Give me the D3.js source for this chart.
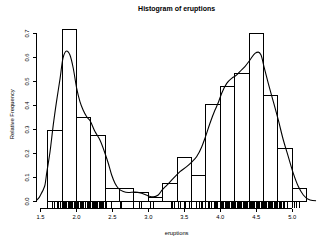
<!DOCTYPE html>
<html><head><meta charset="utf-8">
<script src="https://cdn.jsdelivr.net/npm/d3@7"></script>
<style>
html,body{margin:0;padding:0;background:#fff;}
svg{display:block;font-family:"Liberation Sans",Arial,Helvetica,sans-serif;}
</style></head>
<body><svg id="c" width="328" height="240"></svg>
<script>
// ---- data ----
const breaks = [1.6,1.8,2.0,2.2,2.4,2.6,2.8,3.0,3.2,3.4,3.6,3.8,4.0,4.2,4.4,4.6,4.8,5.0,5.2];
const relFreq = [0.294,0.717,0.349,0.276,0.055,0.055,0.037,0.018,0.074,0.184,0.110,0.404,0.478,0.533,0.699,0.441,0.221,0.055];
const densX = [1.456,1.49,1.52,1.55,1.57,1.593,1.64,1.685,1.73,1.78,1.82,1.87,1.917,1.963,2.01,2.056,2.10,2.15,2.195,2.265,2.334,2.404,2.45,2.497,2.543,2.589,2.659,2.728,2.82,2.914,3.006,3.076,3.145,3.2,3.262,3.354,3.447,3.54,3.61,3.68,3.75,3.795,3.864,3.934,3.98,4.027,4.097,4.166,4.236,4.28,4.35,4.42,4.49,4.536,4.574,4.615,4.675,4.745,4.814,4.884,4.953,5.023,5.093,5.162,5.255,5.34];
const densY = [0.004,0.015,0.032,0.05,0.067,0.115,0.205,0.317,0.414,0.511,0.595,0.625,0.608,0.553,0.47,0.414,0.379,0.351,0.335,0.289,0.254,0.199,0.157,0.108,0.074,0.053,0.039,0.035,0.037,0.032,0.021,0.017,0.025,0.046,0.065,0.094,0.122,0.143,0.162,0.185,0.226,0.262,0.324,0.379,0.41,0.449,0.49,0.511,0.525,0.539,0.56,0.5875,0.615,0.62,0.608,0.56,0.49,0.414,0.3375,0.254,0.185,0.115,0.06,0.025,0.004,0.001];
const rugValues = [1.6,1.667,1.7,1.733,1.75,1.783,1.8,1.817,1.833,1.85,1.867,1.883,1.9,1.917,1.933,1.95,1.967,1.983,2.0,2.017,2.033,2.05,2.067,2.083,2.1,2.133,2.15,2.167,2.183,2.2,2.217,2.233,2.25,2.267,2.283,2.3,2.317,2.333,2.35,2.367,2.383,2.4,2.417,2.483,2.617,2.633,2.8,2.883,2.9,3.033,3.067,3.317,3.333,3.367,3.417,3.45,3.5,3.517,3.567,3.6,3.667,3.717,3.733,3.75,3.8,3.833,3.85,3.883,3.917,3.933,3.95,3.967,4.0,4.017,4.033,4.05,4.067,4.083,4.1,4.117,4.133,4.15,4.167,4.183,4.2,4.217,4.233,4.25,4.267,4.283,4.3,4.317,4.333,4.35,4.367,4.383,4.4,4.417,4.433,4.45,4.467,4.483,4.5,4.517,4.533,4.55,4.567,4.583,4.6,4.617,4.633,4.65,4.667,4.683,4.7,4.717,4.733,4.75,4.767,4.783,4.8,4.817,4.833,4.85,4.883,4.9,4.933,5.0,5.033,5.067,5.1];
const xTicks = [1.5,2.0,2.5,3.0,3.5,4.0,4.5,5.0];
const yTicks = [0.0,0.1,0.2,0.3,0.4,0.5,0.6,0.7];
const title = "Histogram of eruptions";
const xTitle = "eruptions";
const yTitle = "Relative Frequency";

// ---- layout ----
const svg = d3.select("#c");
const x = d3.scaleLinear().domain([1.456, 5.344]).range([36.8, 316.4]);
const y = d3.scaleLinear().domain([-0.0289, 0.7511]).range([207.9, 20.7]);
const fmt = d3.format(".1f");

svg.append("defs").append("clipPath").attr("id","clip")
  .append("rect").attr("x",36.8).attr("y",20.7).attr("width",279.6).attr("height",187.2);

// bars
svg.append("g").selectAll("rect").data(relFreq).join("rect")
  .attr("x",(d,i)=>Math.round(x(breaks[i]))+0.5)
  .attr("y",d=>Math.round(y(d))+0.5)
  .attr("width",(d,i)=>Math.round(x(breaks[i+1]))-Math.round(x(breaks[i])))
  .attr("height",d=>Math.round(y(0))-Math.round(y(d)))
  .attr("fill","none").attr("stroke","#000").attr("stroke-width",1)
  .attr("shape-rendering","crispEdges");

// density curve
const pts = densX.map((v,i)=>[v,densY[i]]);
svg.append("path").datum(pts)
  .attr("clip-path","url(#clip)")
  .attr("d", d3.line().x(d=>x(d[0])).y(d=>y(d[1])).curve(d3.curveMonotoneX))
  .attr("fill","none").attr("stroke","#000").attr("stroke-width",1.1);

// rug
svg.append("g").selectAll("line").data(rugValues).join("line")
  .attr("x1",d=>Math.round(x(d))+0.5).attr("x2",d=>Math.round(x(d))+0.5)
  .attr("y1",207.9).attr("y2",202.3)
  .attr("stroke","#000").attr("stroke-width",1).attr("shape-rendering","crispEdges");

// x axis
const xa = svg.append("g").attr("transform","translate(0,208.5)")
  .call(d3.axisBottom(x).tickValues(xTicks).tickFormat(fmt).tickSize(3.5).tickPadding(2.5).tickSizeOuter(0));
xa.select(".domain").remove();
xa.append("line").attr("x1",x(xTicks[0])).attr("x2",x(xTicks[xTicks.length-1]))
  .attr("stroke","#000").attr("shape-rendering","crispEdges");
xa.selectAll(".tick line").attr("shape-rendering","crispEdges");
xa.selectAll("text").attr("font-size",5.8).attr("fill","#000").attr("font-family",null);

// y axis
const ya = svg.append("g").attr("transform","translate(36.5,0)")
  .call(d3.axisLeft(y).tickValues(yTicks).tickFormat(fmt).tickSize(3.5).tickSizeOuter(0));
ya.select(".domain").remove();
ya.append("line").attr("y1",y(yTicks[0])).attr("y2",y(yTicks[yTicks.length-1]))
  .attr("stroke","#000").attr("shape-rendering","crispEdges");
ya.selectAll(".tick line").attr("shape-rendering","crispEdges");
ya.selectAll("text").attr("font-size",5.8).attr("fill","#000").attr("font-family",null)
  .attr("x",null).attr("dy",null)
  .attr("text-anchor","middle")
  .attr("transform","translate(-7.5,0) rotate(-90)");

// titles
svg.append("text").attr("x",176.6).attr("y",11).attr("text-anchor","middle").attr("fill","#000")
  .attr("font-size",7).attr("font-weight","bold").text(title);
svg.append("text").attr("x",176.6).attr("y",235).attr("text-anchor","middle").attr("fill","#000")
  .attr("font-size",5.8).text(xTitle);
svg.append("text").attr("transform","translate(14,114.3) rotate(-90)").attr("text-anchor","middle").attr("fill","#000")
  .attr("font-size",5.8).text(yTitle);
</script></body></html>
